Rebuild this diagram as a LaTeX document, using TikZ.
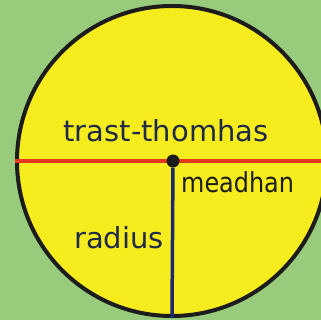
\documentclass[tikz,border=0pt]{standalone}
\usepackage{fontspec}
\setmainfont{DejaVu Sans}
\usepackage{xcolor}
\usepackage{graphicx}
\definecolor{cBack}{HTML}{98CB7C}
\definecolor{cDisc}{HTML}{F7EC1E}
\definecolor{cRim}{HTML}{1C1C1C}
\definecolor{cDiam}{HTML}{E5381E}
\definecolor{cRad}{HTML}{1D2B6E}
\definecolor{cText}{HTML}{1F2A48}
\usepackage{tikz}
\usetikzlibrary{positioning,calc}
\tikzset{
  disc-main/.style={draw=cRim,line width=4pt,fill=cDisc,circle,
    minimum size=310pt,inner sep=0pt},
  disc-centre/.style={fill=cRim,circle,minimum size=13pt,inner sep=0pt},
  line-diam/.style={draw=cDiam,line width=4pt},
  line-rad/.style={draw=cRad,line width=3.5pt},
  label-text/.style={text=cText,inner sep=0pt,
    font=\fontsize{29}{32}\selectfont},
}

\begin{document}
\begin{tikzpicture}[x=1pt,y=-1pt]
  \useasboundingbox (0,0) rectangle (321,320);
  \clip (0,0) rectangle (321,320);
  \fill[cBack] (0,0) rectangle (321,320);
  \node[disc-main] (disc) at (172,161) {};
  \draw[line-diam] (disc.west) -- (disc.east);
  \node[disc-centre] (centre) at (173,161) {};
  \draw[line-rad] (centre) -- (disc.south);
  \node[label-text,anchor=base] (diam-lbl) at (166,142) {trast-thomhas};
  \node[label-text,anchor=base west,text=cRim,
    font=\fontsize{27.5}{30}\selectfont] (centre-lbl) at (181,193)
    {\scalebox{0.87}[1]{meadhan}};
  \node[label-text,anchor=base east] (rad-lbl) at (164,248) {radius};
\end{tikzpicture}
\end{document}
